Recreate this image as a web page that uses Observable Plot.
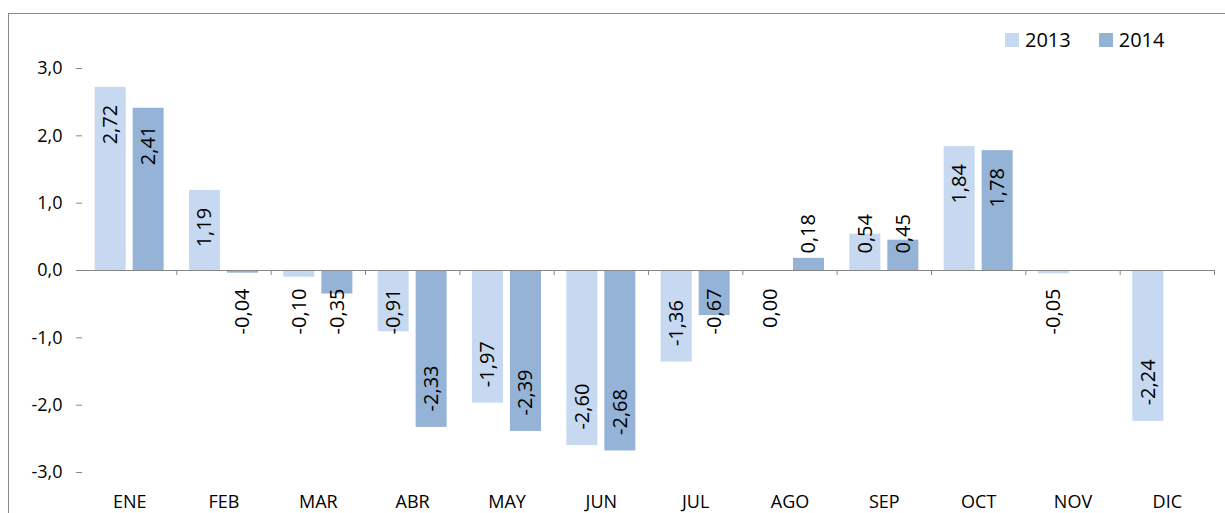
<!DOCTYPE html>
<html>
<head>
<meta charset="utf-8">
<script src="https://cdn.jsdelivr.net/npm/d3@7"></script>
<script src="https://cdn.jsdelivr.net/npm/@observablehq/plot@0.6"></script>
<style>
  html, body { margin: 0; padding: 0; background: #fff; overflow: hidden; }
  body { width: 1225px; height: 513px; position: relative; font-family: "Open Sans", sans-serif; }
  #frame { position: absolute; left: 8px; top: 13px; width: 1400px; height: 700px; border-left: 1px solid #898989; border-top: 1px solid #898989; }
  #chart { position: absolute; left: 0; top: 0; }
  #legend { position: absolute; left: 1005px; top: 26px; display: flex; align-items: center; font-size: 20px; color: #000; }
  #legend .sw { width: 14px; height: 14px; display: inline-block; margin-right: 6px; }
  #legend .item { display: flex; align-items: center; margin-right: 28px; }
</style>
</head>
<body>
<div id="frame"></div>
<div id="chart"></div>
<div id="legend"></div>
<script>
const months = ["ENE", "FEB", "MAR", "ABR", "MAY", "JUN", "JUL", "AGO", "SEP", "OCT", "NOV", "DIC"];
const years = ["2013", "2014"];
const values2013 = [2.72, 1.19, -0.10, -0.91, -1.97, -2.60, -1.36, 0.00, 0.54, 1.84, -0.05, -2.24];
const values2014 = [2.41, -0.04, -0.35, -2.33, -2.39, -2.68, -0.67, 0.18, 0.45, 1.78, null, null];
const yTicks = [-3, -2, -1, 0, 1, 2, 3];
const colors = ["#c6d9f1", "#95b3d7"];

const W = 1225, H = 513;
const mL = 82, mR = 11, mT = 68, mB = 41;
const pIn = 0.184, pOut = 0.3333;

const rows = [];
months.forEach((m, i) => {
  [values2013, values2014].forEach((arr, j) => {
    if (arr[i] !== null) rows.push({month: m, year: years[j], value: arr[i]});
  });
});

const fmt = v => v.toFixed(2).replace(".", ",");
const ctx = document.createElement("canvas").getContext("2d");
ctx.font = "20px 'Open Sans'";
const k = (H - mT - mB) / (yTicks[yTicks.length - 1] - yTicks[0]); // px per unit
rows.forEach(r => {
  r.label = fmt(r.value);
  const L = ctx.measureText(r.label).width;
  r.labelY = r.value > 0
    ? Math.max(r.value - (17.5 + L / 2) / k, (17 + L / 2) / k)
    : Math.min(r.value + (16 + L / 2) / k, -(18 + L / 2) / k);
});

const facetW = (W - mL - mR) / months.length;
const step = facetW / (years.length - pIn + 2 * pOut);
const edgeDx = step * (1 - pIn) / 2 + step * pOut;

const chart = Plot.plot({
  width: W, height: H,
  marginLeft: mL, marginRight: mR, marginTop: mT, marginBottom: mB,
  style: {fontFamily: "'Open Sans', sans-serif", fontSize: "18px", color: "#000", background: "transparent", overflow: "visible"},
  fx: {domain: months, padding: 0, round: false, axis: null, label: null},
  x: {domain: years, paddingInner: pIn, paddingOuter: pOut, round: false, axis: null, label: null},
  y: {domain: [yTicks[0], yTicks[yTicks.length - 1]], axis: null, label: null},
  color: {domain: years, range: colors},
  marks: [
    Plot.barY(rows, {fx: "month", x: "year", y: "value", fill: "year"}),
    Plot.ruleY([0], {stroke: "#868686", strokeWidth: 1}),
    Plot.ruleX(months, {fx: d => d, x: () => years[1], y1: 0, y2: 0, insetBottom: -5, dx: edgeDx, stroke: "#868686"}),
    Plot.axisY({ticks: yTicks, tickFormat: d => d.toFixed(1).replace(".", ","), tickSize: 6, tickPadding: 14, line: true, stroke: "#868686", fill: "#000", fontSize: 18, label: null}),
    Plot.axisFx({anchor: "bottom", tickSize: 0, tickPadding: 23, fill: "#000", fontSize: 18, label: null}),
    Plot.text(rows, {fx: "month", x: "year", y: "labelY", text: "label", rotate: -90, fontSize: 20, fill: "#000"})
  ]
});
document.getElementById("chart").appendChild(chart);

const legend = document.getElementById("legend");
years.forEach((yr, i) => {
  const item = document.createElement("div");
  item.className = "item";
  const sw = document.createElement("span");
  sw.className = "sw";
  sw.style.background = colors[i];
  const t = document.createElement("span");
  t.textContent = yr;
  item.appendChild(sw);
  item.appendChild(t);
  legend.appendChild(item);
});
</script>
</body>
</html>
